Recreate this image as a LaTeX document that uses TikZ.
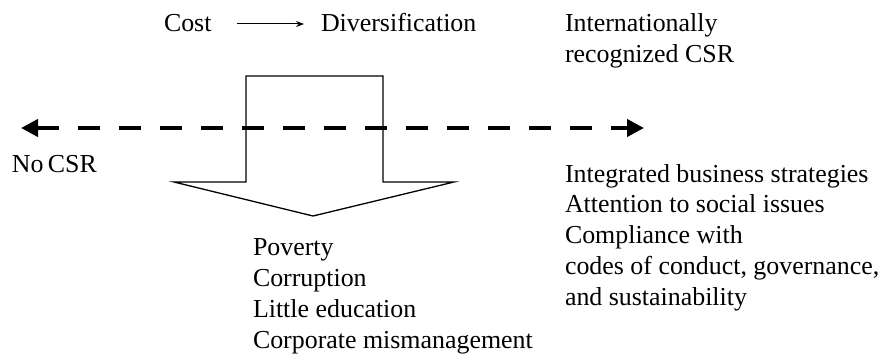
\documentclass[tikz,border=0pt]{standalone}
\usepackage{fontspec}
\setmainfont{Liberation Serif}
\usetikzlibrary{arrows.meta}
\tikzset{
  txt/.style={anchor=base west, inner sep=0pt, outer sep=0pt, font=\fontsize{25.9}{31}\selectfont},
  blockarrow/.style={draw=black, line width=1.3pt, line join=miter},
  csrline/.style={line width=4pt, dash pattern=on 22pt off 19pt, {Triangle[length=17pt,width=17pt]}-{Triangle[length=17pt,width=17pt]}},
  smallarrow/.style={line width=1pt, -{Stealth[length=8pt,width=6pt]}}
}
\begin{document}
\begin{tikzpicture}[x=1pt,y=-1pt]
\useasboundingbox (0,0) rectangle (880,361);
% top row
\node[txt] (cost) at (164,32) {Cost};
\node[txt] (div) at (321,32) {Diversification};
\draw[smallarrow, shorten <=25pt, shorten >=17pt] ([yshift=8pt]cost.base east) -- ([yshift=8pt]cost.base east -| div.base west);
\node[txt] (intl1) at (565,32) {Internationally};
\node[txt] (intl2) at (565,63) {recognized CSR};
% block arrow
\draw[blockarrow] (246,76) -- (383,76) -- (383,182) -- (454,182) -- (313,216) -- (174,182) -- (246,182) -- cycle;
% dashed double arrow
\coordinate (lend) at (21,128);
\coordinate (rend) at (644,128);
\draw[csrline] (lend) -- (rend);
\node[txt] (nocsr) at (12,172) {No\,CSR};
% right list
\node[txt] (r1) at (565,182) {Integrated business strategies};
\node[txt] (r2) at (565,212) {Attention to social issues};
\node[txt] (r3) at (565,243) {Compliance with};
\node[txt] (r4) at (565,274) {codes of conduct, governance,};
\node[txt] (r5) at (565,305) {and sustainability};
% left list
\node[txt] (l1) at (253,255) {Poverty};
\node[txt] (l2) at (253,286) {Corruption};
\node[txt] (l3) at (253,317) {Little education};
\node[txt] (l4) at (253,348) {Corporate mismanagement};
\end{tikzpicture}
\end{document}
